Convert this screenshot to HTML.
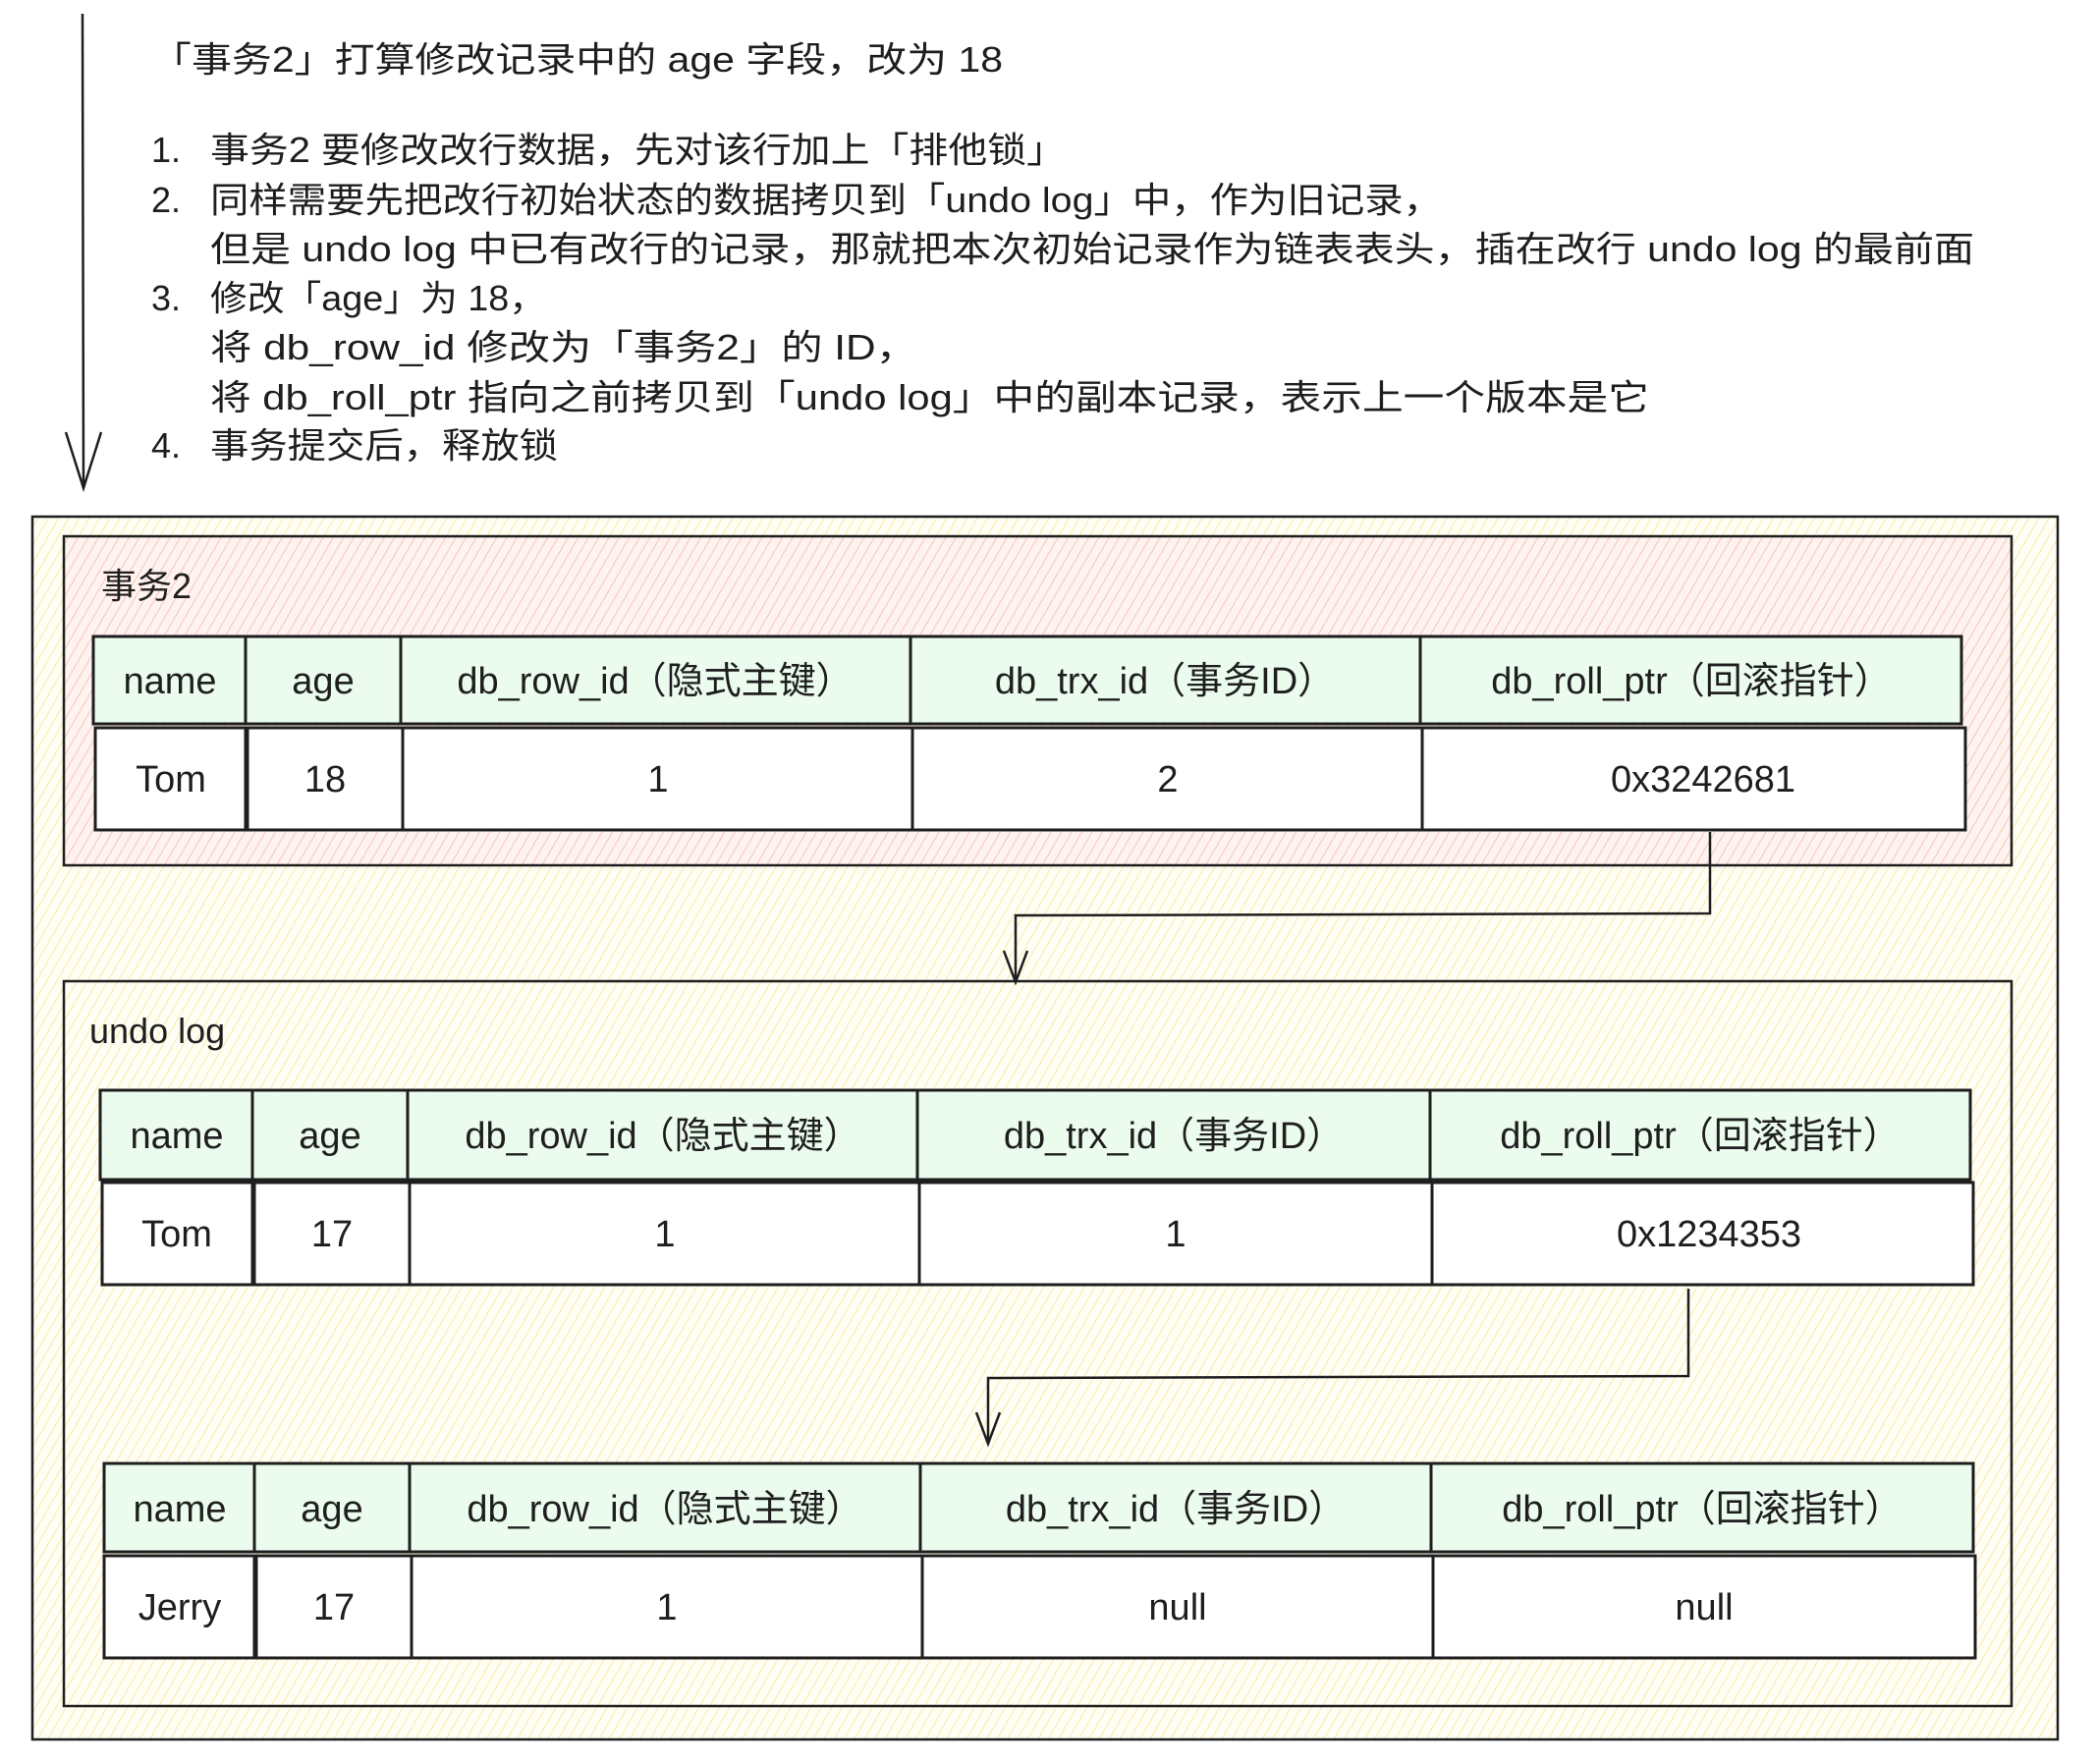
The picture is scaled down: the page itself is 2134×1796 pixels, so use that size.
<!DOCTYPE html>
<html><head><meta charset="utf-8"><style>
html,body{margin:0;padding:0;background:#fff}
svg{display:block}
text{font-family:"Liberation Sans","Noto Sans CJK SC",sans-serif;fill:#1e1e1e}
</style></head><body>
<svg width="2134" height="1796" viewBox="0 0 2134 1796" xmlns="http://www.w3.org/2000/svg">
<defs>
<pattern id="py" width="9" height="9" patternUnits="userSpaceOnUse" patternTransform="rotate(30)">
<rect width="9" height="9" fill="#fffef5"/><line x1="0" y1="0" x2="0" y2="9" stroke="#fbe9a8" stroke-width="2"/></pattern>
<pattern id="pp" width="9" height="9" patternUnits="userSpaceOnUse" patternTransform="rotate(30)">
<rect width="9" height="9" fill="#fff3ef"/><line x1="0" y1="0" x2="0" y2="9" stroke="#f6c4c0" stroke-width="2"/></pattern>
</defs>

<line x1="84" y1="14" x2="85" y2="497" stroke="#1e1e1e" stroke-width="2.5"/>
<polyline points="67,440 85,497 103,440" fill="none" stroke="#1e1e1e" stroke-width="2.5"/>

<g font-size="36">
<text x="154" y="73" textLength="867" lengthAdjust="spacingAndGlyphs">「事务2」打算修改记录中的 age 字段，改为 18</text>
<text x="154" y="165">1.</text>
<text x="214" y="165" textLength="871" lengthAdjust="spacingAndGlyphs">事务2 要修改改行数据，先对该行加上「排他锁」</text>
<text x="154" y="216">2.</text>
<text x="214" y="216" textLength="1254" lengthAdjust="spacingAndGlyphs">同样需要先把改行初始状态的数据拷贝到「undo log」中，作为旧记录，</text>
<text x="214" y="266" textLength="1796" lengthAdjust="spacingAndGlyphs">但是 undo log 中已有改行的记录，那就把本次初始记录作为链表表头，插在改行 undo log 的最前面</text>
<text x="154" y="316">3.</text>
<text x="214" y="316" textLength="342" lengthAdjust="spacingAndGlyphs">修改「age」为 18，</text>
<text x="214" y="366" textLength="720" lengthAdjust="spacingAndGlyphs">将 db_row_id 修改为「事务2」的 ID，</text>
<text x="214" y="417" textLength="1465" lengthAdjust="spacingAndGlyphs">将 db_roll_ptr 指向之前拷贝到「undo log」中的副本记录，表示上一个版本是它</text>
<text x="154" y="466">4.</text>
<text x="214" y="466" textLength="354" lengthAdjust="spacingAndGlyphs">事务提交后，释放锁</text>
</g>

<rect x="33" y="526" width="2062" height="1245" fill="url(#py)" stroke="#1e1e1e" stroke-width="2.5"/>
<rect x="65" y="546" width="1983" height="335" fill="url(#pp)" stroke="#1e1e1e" stroke-width="2.5"/>
<text x="103" y="609" font-size="36">事务2</text>
<rect x="65" y="999" width="1983" height="738" fill="url(#py)" stroke="#1e1e1e" stroke-width="2.5"/>
<text x="91" y="1062" font-size="36">undo log</text>

<g stroke="#1e1e1e" stroke-width="3">
<rect x="95" y="648" width="155" height="89" fill="#ebfbee"/>
<rect x="250" y="648" width="158" height="89" fill="#ebfbee"/>
<rect x="408" y="648" width="519" height="89" fill="#ebfbee"/>
<rect x="927" y="648" width="519" height="89" fill="#ebfbee"/>
<rect x="1446" y="648" width="551" height="89" fill="#ebfbee"/>
<rect x="97" y="741" width="153" height="104" fill="#fff"/>
<rect x="252" y="741" width="158" height="104" fill="#fff"/>
<rect x="410" y="741" width="519" height="104" fill="#fff"/>
<rect x="929" y="741" width="519" height="104" fill="#fff"/>
<rect x="1448" y="741" width="553" height="104" fill="#fff"/>
<rect x="102" y="1110" width="155" height="91" fill="#ebfbee"/>
<rect x="257" y="1110" width="158" height="91" fill="#ebfbee"/>
<rect x="415" y="1110" width="519" height="91" fill="#ebfbee"/>
<rect x="934" y="1110" width="522" height="91" fill="#ebfbee"/>
<rect x="1456" y="1110" width="550" height="91" fill="#ebfbee"/>
<rect x="104" y="1204" width="153" height="104" fill="#fff"/>
<rect x="259" y="1204" width="158" height="104" fill="#fff"/>
<rect x="417" y="1204" width="519" height="104" fill="#fff"/>
<rect x="936" y="1204" width="522" height="104" fill="#fff"/>
<rect x="1458" y="1204" width="551" height="104" fill="#fff"/>
<rect x="106" y="1490" width="153" height="90" fill="#ebfbee"/>
<rect x="259" y="1490" width="158" height="90" fill="#ebfbee"/>
<rect x="417" y="1490" width="520" height="90" fill="#ebfbee"/>
<rect x="937" y="1490" width="520" height="90" fill="#ebfbee"/>
<rect x="1457" y="1490" width="552" height="90" fill="#ebfbee"/>
<rect x="106" y="1584" width="153" height="104" fill="#fff"/>
<rect x="261" y="1584" width="158" height="104" fill="#fff"/>
<rect x="419" y="1584" width="520" height="104" fill="#fff"/>
<rect x="939" y="1584" width="520" height="104" fill="#fff"/>
<rect x="1459" y="1584" width="552" height="104" fill="#fff"/>
</g>

<g stroke="#1e1e1e" stroke-width="2.5" fill="none">
<polyline points="1741,847 1741,930 1034,932 1034,1000"/>
<polyline points="1022,968 1034,1000 1046,968"/>
<polyline points="1719,1312 1719,1401 1006,1403 1006,1470"/>
<polyline points="994,1438 1006,1470 1018,1438"/>
</g>

<g font-size="38" text-anchor="middle">
<text x="173" y="706">name</text><text x="329" y="706">age</text>
<text x="667" y="706">db_row_id（隐式主键）</text><text x="1186" y="706">db_trx_id（事务ID）</text><text x="1722" y="706">db_roll_ptr（回滚指针）</text>
<text x="174" y="806">Tom</text><text x="331" y="806">18</text><text x="670" y="806">1</text><text x="1189" y="806">2</text><text x="1734" y="806">0x3242681</text>

<text x="180" y="1169">name</text><text x="336" y="1169">age</text>
<text x="675" y="1169">db_row_id（隐式主键）</text><text x="1195" y="1169">db_trx_id（事务ID）</text><text x="1731" y="1169">db_roll_ptr（回滚指针）</text>
<text x="180" y="1269">Tom</text><text x="338" y="1269">17</text><text x="677" y="1269">1</text><text x="1197" y="1269">1</text><text x="1740" y="1269">0x1234353</text>

<text x="183" y="1549">name</text><text x="338" y="1549">age</text>
<text x="677" y="1549">db_row_id（隐式主键）</text><text x="1197" y="1549">db_trx_id（事务ID）</text><text x="1733" y="1549">db_roll_ptr（回滚指针）</text>
<text x="183" y="1649">Jerry</text><text x="340" y="1649">17</text><text x="679" y="1649">1</text><text x="1199" y="1649">null</text><text x="1735" y="1649">null</text>
</g>
</svg>
</body></html>
